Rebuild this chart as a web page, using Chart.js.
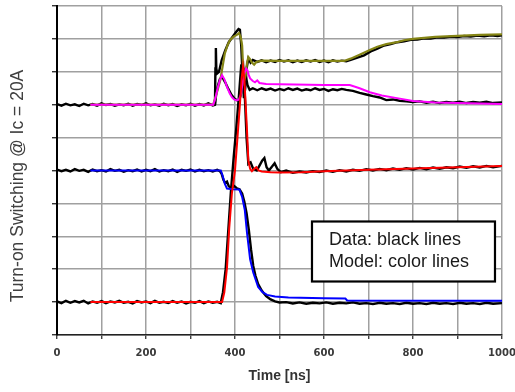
<!DOCTYPE html>
<html>
<head>
<meta charset="utf-8">
<script src="https://cdn.jsdelivr.net/npm/chart.js@4"></script>
<style>
  html, body { margin: 0; padding: 0; background: #fff; }
  #wrap { width: 515px; height: 392px; }
</style>
</head>
<body>
<div id="wrap"><canvas id="turnOn" width="515" height="392"></canvas></div>
<script>
// time [ns] / value pairs (y axis is 10 unlabeled divisions)
const modelRed = [[75,1.0],[371,1.0],[376,1.3],[382,2.05],[387,3.25],[393,4.3],[400,5.0],[405,5.9],[411,7.0],[415,7.8],[418,8.15],[421,7.8],[424,7.0],[427,6.2],[430,5.3],[434,5.05],[438,4.98],[443,5.05],[448,5.1],[453,5.0],[460,4.97],[480,4.95],[500,4.94],[550,4.95],[600,4.98],[700,5.02],[800,5.06],[900,5.1],[1000,5.14]];
const modelBlue = [[75,5.0],[368,5.0],[372,4.85],[377,4.6],[382,4.45],[395,4.43],[410,4.42],[416,4.2],[422,3.8],[427,3.1],[434,2.3],[441,1.9],[452,1.46],[462,1.3],[472,1.22],[490,1.17],[520,1.14],[600,1.12],[648,1.11],[652,1.05],[1000,1.04]];
const modelMagenta = [[75,7.0],[351,7.0],[356,7.2],[361,7.5],[366,7.75],[371,7.9],[376,7.78],[382,7.54],[388,7.35],[393,7.23],[398,7.16],[404,7.13],[409,7.16],[413,7.3],[417,7.65],[421,7.95],[425,8.1],[428,8.05],[431,7.9],[434,7.8],[440,7.72],[445,7.68],[450,7.74],[455,7.66],[470,7.63],[500,7.62],[600,7.6],[658,7.6],[680,7.5],[703,7.38],[730,7.28],[764,7.2],[800,7.11],[850,7.07],[900,7.05],[1000,7.02]];
const modelOlive = [[75,7.0],[351,7.0],[360,7.4],[367,7.75],[372,8.15],[377,8.55],[383,8.8],[389,8.97],[397,9.07],[404,9.12],[409,9.18],[413,9.05],[416,8.8],[418,8.2],[421,7.75],[424,7.9],[427,8.27],[430,8.45],[434,8.38],[438,8.28],[443,8.22],[448,8.3],[460,8.34],[500,8.33],[600,8.33],[645,8.33],[660,8.4],[680,8.52],[703,8.66],[720,8.76],[740,8.84],[764,8.9],[780,8.96],[800,9.0],[850,9.06],[900,9.09],[950,9.12],[1000,9.14]];

const dataRed = [[0,1.02],[10,0.97],[20,1.04],[30,0.98],[40,1.03],[50,0.99],[60,1.04],[70,0.96],[80,1.02],[90,0.98],[100,1.03],[110,0.97],[120,1.02],[130,0.99],[140,1.04],[150,0.98],[160,1.01],[170,0.96],[180,1.03],[190,0.99],[200,1.02],[210,0.97],[220,1.04],[230,0.98],[240,1.01],[250,0.97],[260,1.03],[270,0.98],[280,1.02],[290,0.96],[300,1.01],[310,0.98],[320,1.03],[330,0.97],[340,1.02],[350,0.98],[360,1.01],[368,0.97],[373,1.3],[379,2.0],[385,3.2],[391,4.4],[397,5.4],[403,6.3],[409,7.3],[414,8.2],[418,8.25],[422,7.3],[426,6.0],[430,5.2],[435,5.25],[441,5.05],[449,5.0],[455,5.15],[461,5.3],[466,5.38],[471,5.1],[476,5.0],[482,5.1],[489,5.22],[495,5.05],[503,4.95],[515,5.0],[530,4.93],[545,4.97],[560,4.94],[575,4.98],[590,4.95],[605,5.0],[620,4.96],[635,5.01],[650,4.97],[665,5.02],[680,4.99],[695,5.04],[710,5.0],[725,5.05],[740,5.01],[755,5.06],[770,5.02],[785,5.07],[800,5.03],[815,5.08],[830,5.04],[845,5.09],[860,5.05],[875,5.1],[890,5.07],[905,5.12],[920,5.08],[935,5.13],[950,5.09],[965,5.14],[980,5.1],[1000,5.14]];
const dataBlue = [[0,5.03],[10,4.98],[20,5.02],[30,4.97],[40,5.04],[50,4.99],[60,5.02],[70,4.96],[80,5.03],[90,4.98],[100,5.01],[110,4.97],[120,5.04],[130,4.99],[140,5.02],[150,4.96],[160,5.01],[170,4.98],[180,5.03],[190,4.97],[200,5.02],[210,4.98],[220,5.04],[230,4.97],[240,5.01],[250,4.98],[260,5.03],[270,4.96],[280,5.02],[290,4.99],[300,5.03],[310,4.97],[320,5.02],[330,4.98],[340,5.01],[350,4.97],[360,5.02],[366,4.98],[370,4.9],[374,4.72],[378,4.62],[382,4.66],[386,4.52],[392,4.47],[398,4.53],[404,4.46],[410,4.43],[416,4.3],[421,4.05],[426,3.7],[431,3.2],[436,2.6],[441,2.1],[446,1.8],[452,1.55],[460,1.35],[470,1.18],[480,1.08],[490,1.02],[500,0.99],[515,1.0],[530,0.96],[545,0.99],[560,0.95],[575,0.98],[590,0.96],[605,0.99],[620,0.95],[635,0.98],[650,0.96],[665,0.99],[680,0.95],[695,0.97],[710,0.94],[725,0.98],[740,0.95],[755,0.97],[770,0.94],[785,0.98],[800,0.95],[815,0.97],[830,0.94],[845,0.98],[860,0.95],[875,0.97],[890,0.94],[905,0.98],[920,0.95],[935,0.97],[950,0.94],[965,0.98],[980,0.95],[1000,0.97]];
const dataMagenta = [[0,7.02],[10,6.97],[20,7.03],[30,6.98],[40,7.01],[50,6.96],[60,7.03],[70,6.98],[80,7.02],[90,6.97],[100,7.04],[110,6.99],[120,7.02],[130,6.97],[140,7.01],[150,6.98],[160,7.03],[170,6.97],[180,7.02],[190,6.99],[200,7.04],[210,6.98],[220,7.01],[230,6.97],[240,7.03],[250,6.98],[260,7.02],[270,6.96],[280,7.01],[290,6.98],[300,7.03],[310,6.97],[320,7.02],[330,6.98],[340,7.04],[350,6.98],[355,7.0],[358,7.35],[362,7.6],[366,7.78],[371,7.85],[378,7.68],[385,7.48],[392,7.3],[398,7.2],[404,7.14],[409,7.12],[413,7.3],[417,7.8],[420,8.05],[424,7.9],[428,7.6],[433,7.45],[440,7.5],[450,7.44],[460,7.5],[470,7.45],[480,7.49],[490,7.43],[500,7.48],[510,7.44],[520,7.5],[530,7.45],[540,7.49],[550,7.43],[560,7.47],[570,7.44],[580,7.5],[590,7.45],[600,7.48],[610,7.42],[620,7.47],[630,7.44],[640,7.48],[650,7.45],[665,7.42],[680,7.36],[695,7.31],[710,7.26],[725,7.22],[740,7.14],[755,7.16],[770,7.12],[785,7.1],[800,7.08],[815,7.1],[830,7.06],[845,7.09],[860,7.05],[875,7.08],[890,7.06],[905,7.09],[920,7.05],[935,7.08],[950,7.06],[965,7.09],[980,7.05],[1000,7.07]];
const dataOlive = [[355,7.0],[356,8.1],[357,8.72],[358,8.1],[360,7.95],[364,8.0],[370,8.35],[378,8.65],[386,8.9],[394,9.05],[402,9.2],[408,9.3],[411,9.28],[414,8.8],[417,7.9],[420,7.2],[423,7.5],[426,8.1],[430,8.4],[435,8.28],[440,8.36],[450,8.3],[460,8.35],[470,8.29],[480,8.34],[490,8.3],[500,8.36],[510,8.31],[520,8.35],[530,8.29],[540,8.34],[550,8.3],[560,8.35],[570,8.31],[580,8.36],[590,8.3],[600,8.34],[610,8.29],[620,8.35],[630,8.31],[640,8.34],[650,8.32],[660,8.36],[675,8.43],[690,8.5],[705,8.62],[720,8.7],[735,8.8],[750,8.84],[765,8.9],[780,8.93],[795,8.97],[810,8.98],[825,9.02],[840,9.01],[855,9.05],[870,9.04],[885,9.07],[900,9.06],[915,9.09],[930,9.07],[945,9.1],[960,9.08],[975,9.11],[990,9.09],[1000,9.11]];

const xTicks = [0, 200, 400, 600, 800, 1000];
const yTitle = 'Turn-on Switching @ Ic = 20A';
const xTitle = 'Time [ns]';
const noteLines = ['Data: black lines', 'Model: color lines'];

const toXY = arr => arr.map(([x, y]) => ({ x, y }));

function line(data, color, width) {
  return {
    data: toXY(data),
    borderColor: color,
    borderWidth: width,
    pointRadius: 0,
    tension: 0,
    fill: false
  };
}

// extra text: rotated y title and the boxed note
const overlay = {
  id: 'overlay',
  afterDraw(chart) {
    const ctx = chart.ctx;
    ctx.save();
    ctx.fillStyle = '#404040';
    ctx.font = '17.5px "Liberation Sans", Arial, sans-serif';
    ctx.textAlign = 'center';
    ctx.textBaseline = 'middle';
    ctx.translate(18, 186);
    ctx.rotate(-Math.PI / 2);
    ctx.fillText(yTitle, 0, 0);
    ctx.restore();

    // note box sits in the lower right of the plot
    const bx = chart.scales.x.getPixelForValue(573);
    const by = chart.scales.y.getPixelForValue(3.45);
    const bw = 183, bh = 60;
    ctx.save();
    ctx.fillStyle = '#fff';
    ctx.fillRect(bx, by, bw, bh);
    ctx.strokeStyle = '#000';
    ctx.lineWidth = 2.2;
    ctx.strokeRect(bx, by, bw, bh);
    ctx.fillStyle = '#1a1a1a';
    ctx.font = '18px "Liberation Sans", Arial, sans-serif';
    ctx.textBaseline = 'middle';
    ctx.fillText(noteLines[0], bx + 17, by + 19);
    ctx.fillText(noteLines[1], bx + 17, by + 41);
    ctx.restore();
  }
};

new Chart(document.getElementById('turnOn'), {
  type: 'line',
  data: {
    datasets: [
      line(modelRed, '#ff0000', 2),
      line(modelMagenta, '#ff00ff', 2),
      line(modelBlue, '#0000ff', 2),
      line(modelOlive, '#858515', 2.2),
      line(dataRed, '#000', 2.4),
      line(dataBlue, '#000', 2.4),
      line(dataMagenta, '#000', 2.4),
      line(dataOlive, '#000', 2.4)
    ]
  },
  options: {
    responsive: false,
    animation: false,
    events: [],
    layout: { padding: { top: 6, right: 13, left: 0, bottom: 0 } },
    plugins: { legend: { display: false }, tooltip: { enabled: false } },
    scales: {
      x: {
        type: 'linear',
        min: 0,
        max: 1000,
        afterFit: s => { s.height = 57; s.paddingRight = 0; s.paddingLeft = 0; },
        ticks: {
          stepSize: 100,
          autoSkip: false,
          maxRotation: 0,
          padding: 8,
          color: '#3a3a3a',
          font: { family: '"DejaVu Sans"', size: 10, weight: 'bold' },
          callback: v => xTicks.includes(v) ? String(v) : ''
        },
        grid: { color: '#a0a0a0', lineWidth: 1.5, tickColor: '#222', tickLength: 4, tickWidth: 1.2 },
        border: { color: '#222', width: 1.5 },
        title: {
          display: true,
          text: xTitle,
          color: '#333',
          font: { family: '"Liberation Sans", Arial', size: 14, weight: 'bold' },
          padding: { top: 0, bottom: 7 }
        }
      },
      y: {
        min: 0,
        max: 10,
        afterFit: s => { s.width = 57; s.paddingTop = 0; s.paddingBottom = 0; },
        ticks: { stepSize: 1, display: false },
        grid: { color: '#a0a0a0', lineWidth: 1.5, tickColor: '#111', tickLength: 5, tickWidth: 1.2 },
        border: { color: '#000', width: 2 }
      }
    }
  },
  plugins: [overlay]
});
</script>
</body>
</html>
